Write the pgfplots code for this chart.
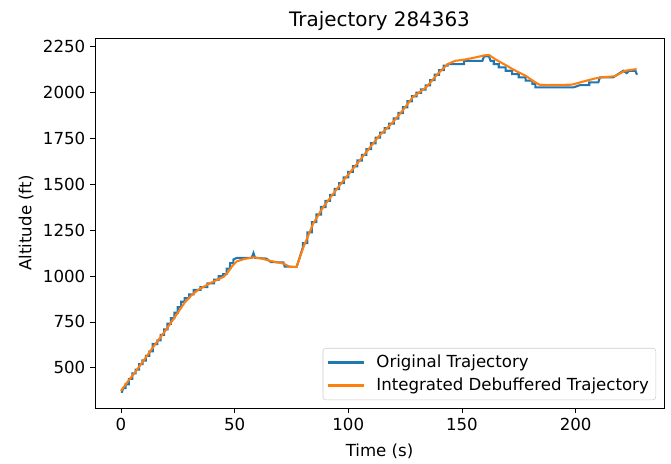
\documentclass[border=0pt]{standalone}
\usepackage{fontspec}
\setmainfont{DejaVu Sans}
\usepackage{pgfplots}
\pgfplotsset{compat=1.18}
\definecolor{mplblue}{HTML}{1F77B4}
\definecolor{mplorange}{HTML}{FF7F0E}

\begin{document}
\begin{tikzpicture}
\begin{axis}[
  at={(0,0)}, anchor=south west,
  scale only axis, width=409.7bp, height=266.4bp,
  xmin=-11.4, xmax=238.9, ymin=281, ymax=2296,
  xtick={0,50,100,150,200}, ytick={500,750,1000,1250,1500,1750,2000,2250},
  xtick pos=left, ytick pos=left, tick align=outside,
  major tick length=3.5bp,
  every tick/.style={black, line width=0.6pt},
  axis line style={black, line width=0.6pt},
  tick label style={font=\fontsize{12}{14}\selectfont},
  /pgf/number format/assume math mode=true,
  /pgf/number format/1000 sep={},
  xlabel={Time (s)}, ylabel={Altitude (ft)},
  label style={font=\fontsize{12}{14}\selectfont},
  xlabel style={yshift=-3bp},
  title={Trajectory 284363},
  title style={font=\fontsize{14.4}{17}\selectfont, yshift=-4.5bp},
  legend style={at={(0.986,0.0216)}, anchor=south east,
    draw=black!20, rounded corners=2bp, fill=white, fill opacity=0.8, text opacity=1,
    font=\fontsize{12}{14}\selectfont, row sep=2bp, inner sep=3bp,
    /tikz/every odd column/.append style={column sep=6bp}},
  legend cell align=left,
  legend image code/.code={\draw[#1, line width=1.5pt] (0bp,0bp) -- (26bp,0bp);},
]
\addplot[mplblue, line width=1.5pt] coordinates {
(0,370)(0.5,370)(1,390)(2,390)(2,410)(3.5,410)(3.5,440)(5,440)(5,470)(6.5,470)
(6.5,490)(8,490)(8,520)(9.5,520)(9.5,540)(11,540)(11,565)(12.5,565)(12.5,590)
(14,590)(14,630)(16,630)(16,650)(17.5,650)(17.5,680)(19,680)(19,710)(20.5,710)
(20.5,740)(22,740)(22,770)(23.5,770)(23.5,800)(25,800)(25,830)(26.5,830)(26.5,860)
(28,860)(28,880)(30,880)(30,900)(32,900)(32,925)(35,925)(35,940)(38,940)(38,960)
(41,960)(41,980)(43,980)(43,1000)(45,1000)(45,1010)(46.5,1010)(46.5,1040)(48,1040)
(48,1070)(49.5,1070)(49.5,1090)(51,1099)(57.5,1099)(58.3,1125)(59,1099)(64,1095)
(66,1076)(71.5,1074)(72,1052)(76,1050)(77.3,1050)(80,1155)
(80,1179)(82,1179)(82,1238)(84,1238)(84,1294)(86,1294)(86,1335)(88,1335)
(88,1376)(90,1376)(90,1409)(92,1409)(92,1442)(94,1442)(94,1474)(96,1474)
(96,1506)(98,1506)(98,1537)(100,1537)(100,1567)(102,1567)(102,1598)(104,1598)
(104,1629)(106,1629)(106,1660)(108,1660)(108,1691)(110,1691)(110,1723)(112,1723)
(112,1754)(114,1754)(114,1781)(116,1781)(116,1805)(118,1805)(118,1830)(120,1830)
(120,1858)(122,1858)(122,1888)(124,1888)(124,1919)(126,1919)(126,1952)(128,1952)
(128,1979)(130,1979)(130,1998)(132,1998)(132,2016)(134,2016)(134,2038)(136,2038)
(136,2067)(138,2067)(138,2096)(140,2096)(140,2121)(142,2121)(142,2146)(143.7,2146)
(143.7,2154)(150.9,2154)(150.9,2172)
(159,2172)(159.7,2196)(161.9,2196)(162.6,2172)(164,2172)(164,2154)(166.2,2154)
(166.2,2136)(169.2,2136)(169.2,2118)(172.1,2118)(172.1,2100)(175,2100)(175,2082)
(178,2082)(178,2064)(181,2064)(181,2046)(182.3,2046)(182.3,2027)(199,2027)
(202,2040)(206,2040)(206,2055)(210,2055)(210.7,2082)(216.5,2082)(218.7,2100)
(221,2118)(222.5,2105)(223.5,2118)(226.3,2118)(227,2096)
};
\addlegendentry{Original Trajectory}
\addplot[mplorange, line width=1.5pt] coordinates {
(0,375)(3,425)(6,472)(10,540)(14.6,620)(20,710)(25,800)(28,855)(31,895)(34,925)
(39.4,962)(45.2,996)(47,1020)(49,1055)(51,1080)(54,1092)(58.3,1102)(62,1095)
(65.6,1083)(71.5,1068)(74.4,1050)(77.3,1050)(80.2,1155)(84.6,1286)(89,1376)
(96.2,1494)(105,1629)(113.7,1765)(119.6,1837)(123.9,1901)(128.3,1973)(134.2,2027)
(139.3,2100)(143.7,2154)(147,2172)(150.9,2178)(155,2188)(160.4,2203)(162,2203)
(165,2178)(169.2,2149)(174,2115)(178,2091)(181,2065)(184,2042)(188,2040)
(198.3,2042)(203,2058)(208.5,2076)(213,2084)(217.3,2088)(221.7,2118)(226.8,2127)
};
\addlegendentry{Integrated Debuffered Trajectory}
\end{axis}
\pgfresetboundingbox
\path (-68.4bp,-39.6bp) rectangle (414.7bp,293.8bp);
\end{tikzpicture}
\end{document}
